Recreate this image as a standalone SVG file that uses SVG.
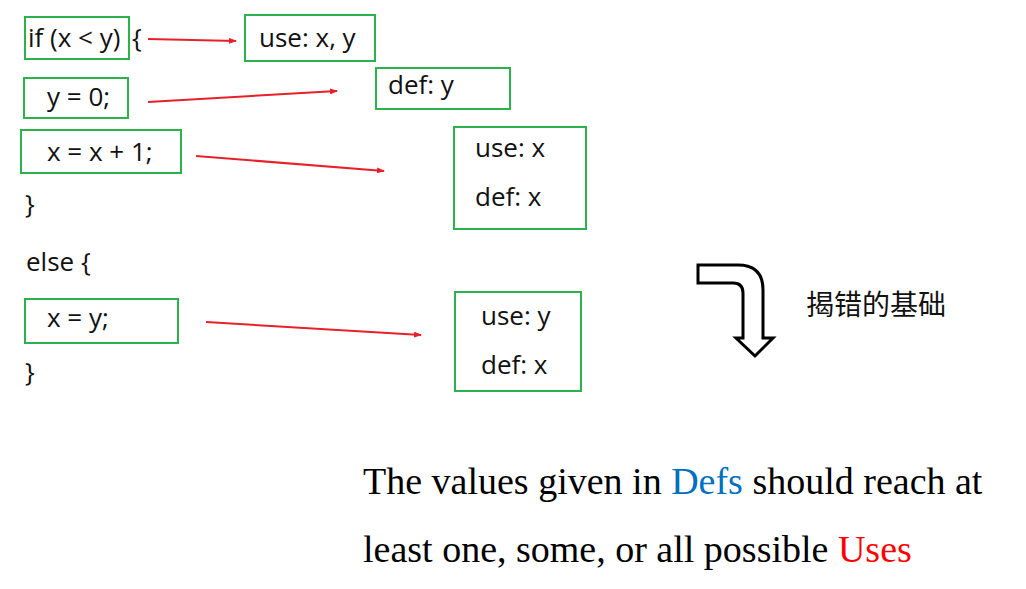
<svg xmlns="http://www.w3.org/2000/svg" width="1026" height="589" viewBox="0 0 1026 589">
<style>
.box{fill:none;stroke:#2bb24c;stroke-width:2}
.code{font-family:"Open Sans","Liberation Sans",sans-serif;font-size:26px;fill:#111}
.con{stroke:#e8202a;stroke-width:2;fill:none}
.serif{font-family:"Liberation Serif",serif;font-size:38px;fill:#000}
</style>
<defs>
<marker id="ah" markerWidth="8" markerHeight="6" refX="7" refY="3" orient="auto" markerUnits="userSpaceOnUse">
<path d="M0,0 L8,3 L0,6 Z" fill="#e8202a"/>
</marker>
</defs>
<rect width="1026" height="589" fill="#fff"/>
<g id="n-if"><rect class="box" x="25" y="17" width="104" height="42"/><text class="code" x="28" y="47">if (x &lt; y)</text><text class="code" x="132" y="47">{</text></g>
<g id="n-y0"><rect class="box" x="24" y="78" width="104" height="40"/><text class="code" x="47" y="106">y = 0;</text></g>
<g id="n-xx1"><rect class="box" x="21" y="130" width="160" height="43"/><text class="code" x="47" y="161">x = x + 1;</text></g>
<g id="n-close1"><text class="code" x="25" y="213">}</text></g>
<g id="n-else"><text class="code" x="26" y="271">else {</text></g>
<g id="n-xy"><rect class="box" x="25" y="299" width="153" height="44"/><text class="code" x="47" y="327">x = y;</text></g>
<g id="n-close2"><text class="code" x="25" y="381">}</text></g>
<g id="n-usexy"><rect class="box" x="245" y="15" width="130" height="46"/><text class="code" x="259" y="47">use: x, y</text></g>
<g id="n-defy"><rect class="box" x="376" y="68" width="134" height="41"/><text class="code" x="388" y="94">def: y</text></g>
<g id="n-usexdefx"><rect class="box" x="454" y="127" width="132" height="102"/><text class="code" x="475" y="157">use: x</text><text class="code" x="475" y="206">def: x</text></g>
<g id="n-useydefx"><rect class="box" x="455" y="292" width="126" height="99"/><text class="code" x="481" y="325">use: y</text><text class="code" x="481" y="374">def: x</text></g>
<g id="connectors">
<line class="con" x1="148" y1="39" x2="236" y2="41" marker-end="url(#ah)"/>
<line class="con" x1="148" y1="102" x2="337" y2="91" marker-end="url(#ah)"/>
<line class="con" x1="196" y1="156" x2="384" y2="171" marker-end="url(#ah)"/>
<line class="con" x1="206" y1="322" x2="421" y2="335" marker-end="url(#ah)"/>
</g>
<g id="bent-arrow"><path d="M698,265 L738,265 Q763,265 763,290 L763,338 L773,338 L755,356 L736,338 L743,338 L743,293 Q743,283 733,283 L698,283 Z" fill="#fff" stroke="#000" stroke-width="3" stroke-linejoin="miter"/></g>
<g id="label-cn"><text x="806" y="315" font-family="'Noto Sans CJK SC',sans-serif" font-size="28" fill="#111">揭错的基础</text></g>
<g id="caption">
<text class="serif" x="363" y="494">The values given in <tspan fill="#0070c0">Defs</tspan> should reach at</text>
<text class="serif" x="363" y="562">least one, some, or all possible <tspan fill="#ff0000">Uses</tspan></text>
</g>
</svg>
